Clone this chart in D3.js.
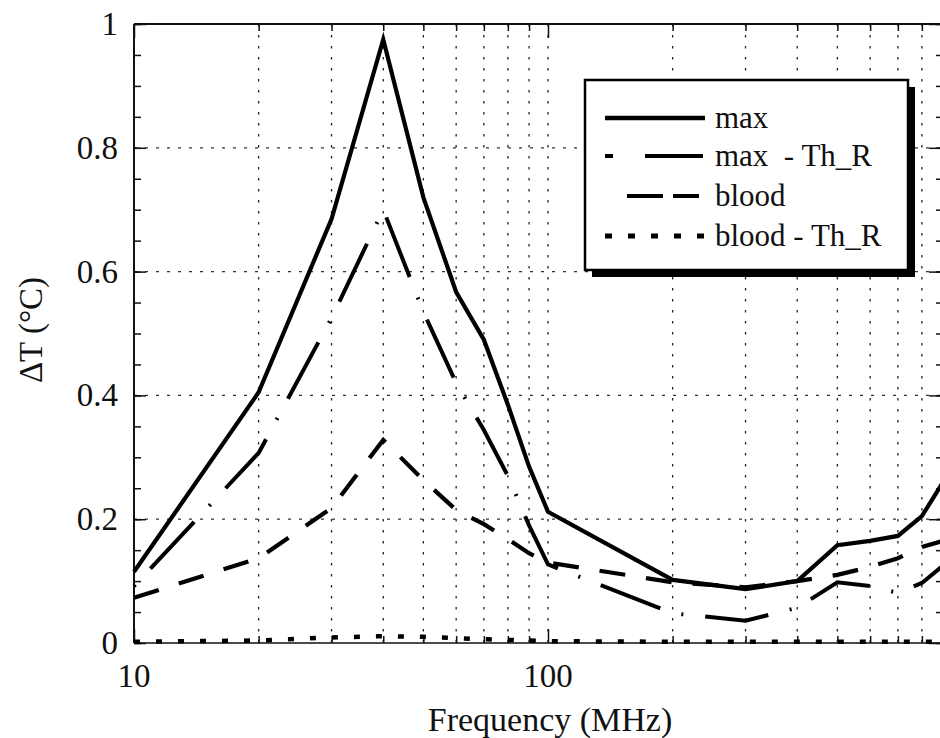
<!DOCTYPE html>
<html>
<head>
<meta charset="utf-8">
<script src="https://cdn.jsdelivr.net/npm/d3@7"></script>
<style>
  html, body { margin: 0; padding: 0; background: #fff; }
  svg { display: block; }
</style>
</head>
<body>
<svg id="chart" width="940" height="738"></svg>
<script>
// ---- data ----
const freqs = [10, 20, 30, 40, 50, 60, 70, 80, 90, 100, 200, 300, 400, 500, 600, 700, 800, 900];
const maxVals = [0.115, 0.405, 0.685, 0.975, 0.72, 0.567, 0.49, 0.385, 0.285, 0.212, 0.102, 0.087, 0.1, 0.158, 0.165, 0.173, 0.205, 0.26];
const maxThRVals = [0.092, 0.307, 0.525, 0.70, 0.535, 0.42, 0.344, 0.27, 0.19, 0.127, 0.048, 0.036, 0.057, 0.098, 0.092, 0.081, 0.097, 0.125];
const bloodVals = [0.073, 0.137, 0.218, 0.328, 0.263, 0.215, 0.192, 0.168, 0.145, 0.13, 0.098, 0.09, 0.1, 0.11, 0.123, 0.137, 0.155, 0.165];
const bloodThRVals = [0.002, 0.004, 0.009, 0.011, 0.01, 0.008, 0.006, 0.005, 0.004, 0.003, 0.002, 0.002, 0.002, 0.002, 0.002, 0.002, 0.002, 0.002];
const seriesNames = ["max", "max  - Th_R", "blood", "blood - Th_R"];
const yTickVals = [0, 0.2, 0.4, 0.6, 0.8, 1];
const yTickLabels = ["0", "0.2", "0.4", "0.6", "0.8", "1"];
const xTickVals = [10, 100];
const xTickLabels = ["10", "100"];
const xTitle = "Frequency (MHz)";
const yTitle = "\u0394T (\u00B0C)";

(function () {
const FONT = "Liberation Serif";
// ---- layout ----
const svg = d3.select("#chart");
const pLeft = 134, pTop = 24, pBottom = 643;
const x = d3.scaleLog().domain([10, 900]).range([pLeft, pLeft + 414 * Math.log10(90)]);
const y = d3.scaleLinear().domain([0, 1]).range([pBottom, pTop]);
const pRight = x(900);

const minorX = [];
[10, 100].forEach(d => { for (let k = 2; k <= 9; k++) { const v = d * k; if (v < 900) minorX.push(v); } });
const gridX = minorX.concat([100]);

// grid
const grid = svg.append("g");
grid.selectAll("line.gx").data(gridX).enter().append("line")
  .attr("x1", d => x(d)).attr("x2", d => x(d))
  .attr("y1", pTop).attr("y2", pBottom)
  .attr("stroke", "#222").attr("stroke-width", 1.3).attr("stroke-dasharray", "2.5,8.5");
grid.selectAll("line.gy").data([0.2, 0.4, 0.6, 0.8]).enter().append("line")
  .attr("x1", pLeft).attr("x2", pRight)
  .attr("y1", d => y(d)).attr("y2", d => y(d))
  .attr("stroke", "#333").attr("stroke-width", 1.2).attr("stroke-dasharray", "3,8");

// frame
svg.append("line").attr("x1", pLeft).attr("x2", pRight).attr("y1", pTop).attr("y2", pTop)
  .attr("stroke", "#111").attr("stroke-width", 2.2);
svg.append("line").attr("x1", pLeft).attr("x2", pRight).attr("y1", pBottom).attr("y2", pBottom)
  .attr("stroke", "#111").attr("stroke-width", 1.6);
svg.append("line").attr("x1", pLeft).attr("x2", pLeft).attr("y1", pTop).attr("y2", pBottom)
  .attr("stroke", "#111").attr("stroke-width", 2);
svg.append("line").attr("x1", pRight).attr("x2", pRight).attr("y1", pTop).attr("y2", pBottom)
  .attr("stroke", "#111").attr("stroke-width", 2);

// axes via d3 axis generators (inward ticks)
const yMinor = d3.range(0, 1.0001, 0.05);
const axL = svg.append("g").attr("transform", `translate(${pLeft},0)`)
  .call(d3.axisRight(y).tickValues(yMinor).tickSize(7).tickFormat(""));
const axLmaj = svg.append("g").attr("transform", `translate(${pLeft},0)`)
  .call(d3.axisRight(y).tickValues(yTickVals).tickSize(12).tickFormat(""));
const axR = svg.append("g").attr("transform", `translate(${pRight},0)`)
  .call(d3.axisLeft(y).tickValues(yMinor).tickSize(7).tickFormat(""));
const axRmaj = svg.append("g").attr("transform", `translate(${pRight},0)`)
  .call(d3.axisLeft(y).tickValues(yTickVals).tickSize(14).tickFormat(""));
const axB = svg.append("g").attr("transform", `translate(0,${pBottom})`)
  .call(d3.axisTop(x).tickValues(minorX).tickSize(7).tickFormat(""));
const axBmaj = svg.append("g").attr("transform", `translate(0,${pBottom})`)
  .call(d3.axisTop(x).tickValues(xTickVals).tickSize(14).tickFormat(""));
const axT = svg.append("g").attr("transform", `translate(0,${pTop})`)
  .call(d3.axisBottom(x).tickValues(minorX).tickSize(7).tickFormat(""));
const axTmaj = svg.append("g").attr("transform", `translate(0,${pTop})`)
  .call(d3.axisBottom(x).tickValues(xTickVals).tickSize(14).tickFormat(""));
[axL, axLmaj, axR, axRmaj, axB, axBmaj, axT, axTmaj].forEach(g => {
  g.select(".domain").remove();
  g.selectAll(".tick line").attr("stroke", "#111").attr("stroke-width", 1.5);
});

// tick labels
svg.append("g").selectAll("text").data(yTickVals).enter().append("text")
  .attr("x", 118).attr("y", d => y(d) + 11)
  .attr("text-anchor", "end").attr("font-size", 33).attr("font-family", FONT).attr("fill", "#111")
  .text((d, i) => yTickLabels[i]);
svg.append("g").selectAll("text").data(xTickVals).enter().append("text")
  .attr("x", d => x(d)).attr("y", 687)
  .attr("text-anchor", "middle").attr("font-size", 33).attr("font-family", FONT).attr("fill", "#111")
  .text((d, i) => xTickLabels[i]);

// axis titles
svg.append("text").attr("x", 550).attr("y", 731).attr("text-anchor", "middle")
  .attr("font-size", 34).attr("font-family", FONT).attr("fill", "#111").text(xTitle);
svg.append("text").attr("transform", "translate(42,330) rotate(-90)")
  .attr("text-anchor", "middle").attr("font-size", 33).attr("font-family", FONT).attr("fill", "#111").text(yTitle);

// series
const styles = [
  { vals: maxVals, width: 4.2, dash: null },
  { vals: maxThRVals, width: 4, dash: "2,22,64,22" },
  { vals: bloodVals, width: 4.2, dash: "26,21" },
  { vals: bloodThRVals, width: 4.5, dash: "6,16" }
];
const line = d3.line().x(d => x(d[0])).y(d => y(d[1]));
styles.forEach(s => {
  svg.append("path")
    .datum(freqs.map((f, i) => [f, s.vals[i]]))
    .attr("d", line)
    .attr("fill", "none").attr("stroke", "#000")
    .attr("stroke-width", s.width)
    .attr("stroke-linejoin", "miter")
    .attr("stroke-linecap", "butt")
    .attr("stroke-dasharray", s.dash);
});

// legend
const lg = svg.append("g");
lg.append("rect").attr("x", 592).attr("y", 87).attr("width", 323).attr("height", 190).attr("fill", "#000");
lg.append("rect").attr("x", 585).attr("y", 80).attr("width", 323).attr("height", 190)
  .attr("fill", "#fff").attr("stroke", "#000").attr("stroke-width", 2.5);
const legRowsY = [118, 156, 196, 236];
const legLine = [
  { x1: 605, x2: 705, dash: null, w: 4.5 },
  { x1: 605, x2: 703, dash: "8,32,58", w: 3.8 },
  { x1: 627, x2: 699, dash: "36,10", w: 3.8 },
  { x1: 605, x2: 705, dash: "7,16", w: 5 }
];
seriesNames.forEach((name, i) => {
  lg.append("line").attr("x1", legLine[i].x1).attr("x2", legLine[i].x2)
    .attr("y1", legRowsY[i]).attr("y2", legRowsY[i])
    .attr("stroke", "#000").attr("stroke-width", legLine[i].w)
    .attr("stroke-dasharray", legLine[i].dash);
  lg.append("text").attr("x", 715).attr("y", legRowsY[i] + 10)
    .attr("font-size", 31).attr("font-family", FONT).attr("fill", "#111")
    .attr("xml:space", "preserve").style("white-space", "pre").text(name);
});
})();
</script>
</body>
</html>
